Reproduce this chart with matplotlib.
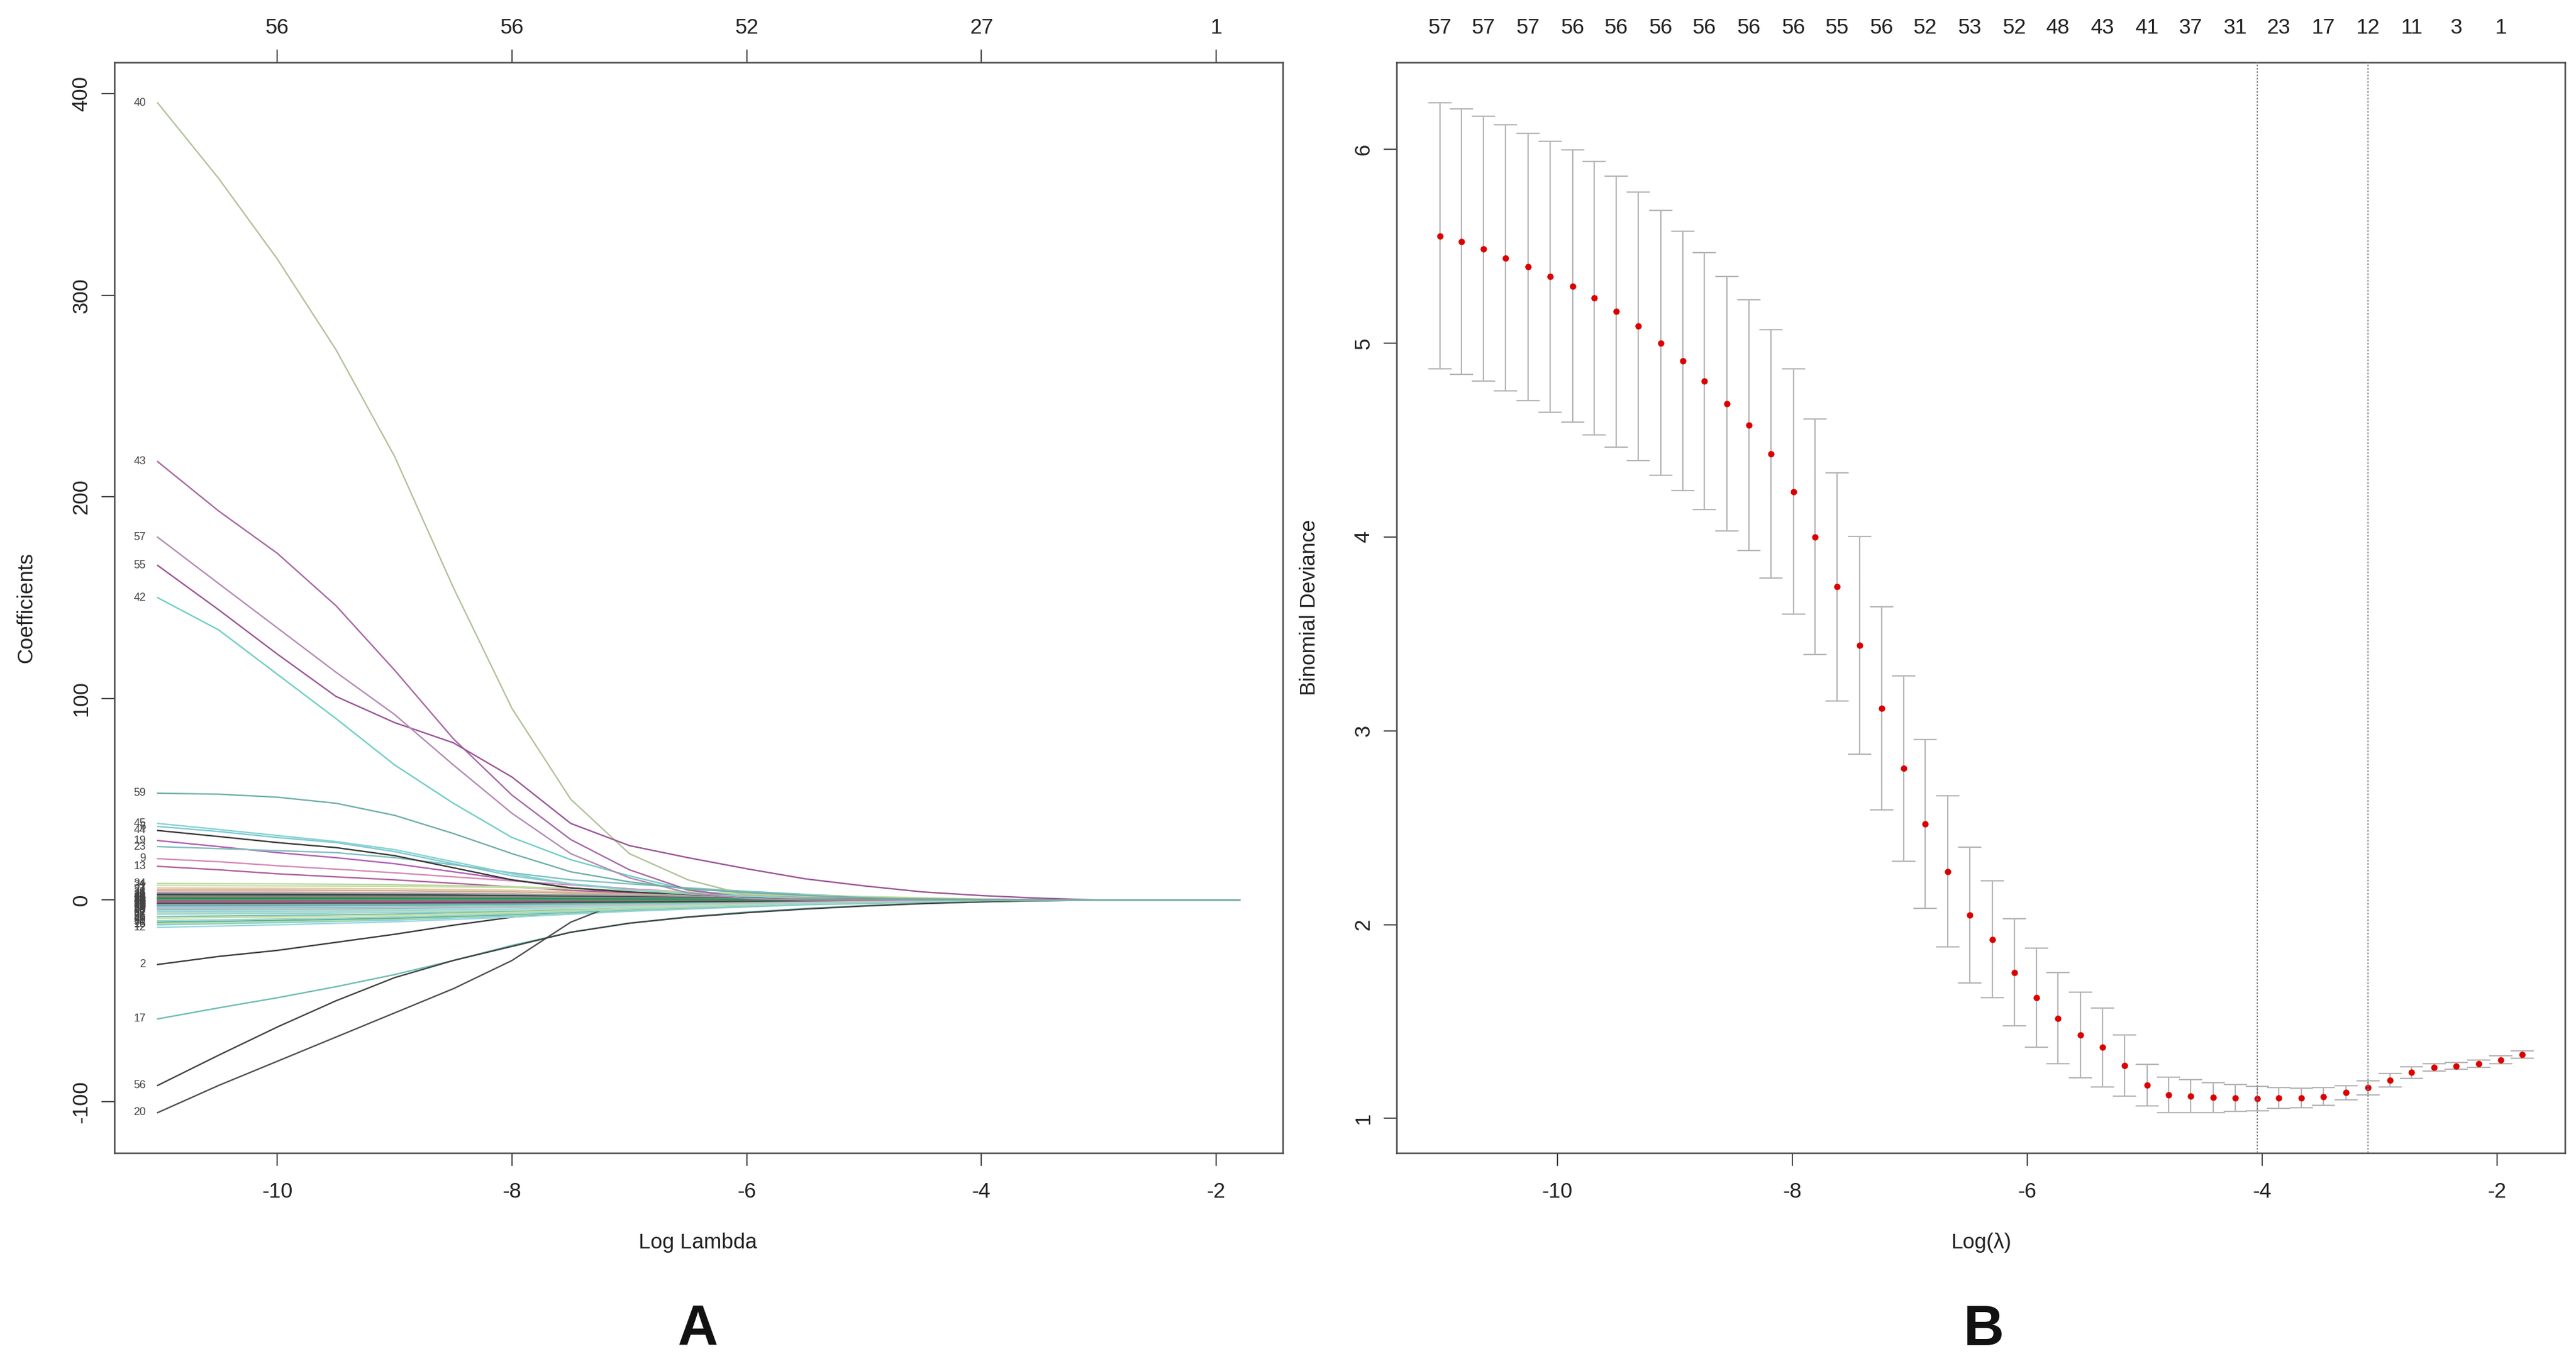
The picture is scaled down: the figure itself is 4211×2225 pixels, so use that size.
import numpy as np
import matplotlib
matplotlib.use("Agg")
import matplotlib.pyplot as plt

plt.rcParams['font.family'] = ['Liberation Sans', 'DejaVu Sans']
plt.rcParams['axes.unicode_minus'] = False

# ---------------- panel A: lasso coefficient paths ----------------
# log(lambda) positions where the paths were read off
path_x = [-11.02, -10.5, -10.0, -9.5, -9.0, -8.5, -8.0, -7.5, -7.0,
          -6.5, -6.0, -5.5, -5.0, -4.5, -4.0, -3.5, -3.0]
path_end = -1.80   # last lambda of the path

b40 = [395.5, 358, 318, 273, 220, 155, 95, 50, 23, 10, 2.5, 0.6, 0, 0, 0, 0, 0]
b43 = [217.5, 193, 172, 146, 114, 80, 52, 30, 15, 5, 1.2, 0, 0, 0, 0, 0, 0]
b57 = [180, 157, 135, 113, 92, 67, 43, 23, 11, 3.5, 0.8, 0, 0, 0, 0, 0, 0]
b55 = [166, 144, 122, 101, 88, 78, 61, 38, 27, 21, 15.5, 10.5, 7, 4, 2.2, 0.9, 0]
b42 = [150, 134, 112, 90, 67, 48, 31, 20, 12, 5, 1.5, 0.3, 0, 0, 0, 0, 0]
b59 = [53, 52.5, 51, 48, 42, 33, 23, 14, 9, 5.5, 3.7, 2.3, 1.2, 0.2, 0, 0, 0]
b45 = [38, 35, 32, 29, 25, 19, 13, 8, 5, 3, 1.8, 0.8, 0.2, 0, 0, 0, 0]
b6 = [36.5, 34, 31, 28.5, 24, 18, 12, 8, 5.5, 3.5, 2, 1, 0.3, 0, 0, 0, 0]
b44 = [34.5, 31.5, 28.5, 26, 22, 16, 10, 6, 4, 2.8, 1.6, 0.5, 0, 0, 0, 0, 0]
b19 = [29.5, 26.5, 23.5, 21, 18, 14, 10, 6, 3.5, 2, 0.9, 0.2, 0, 0, 0, 0, 0]
b23 = [26.5, 25.5, 24.5, 23.5, 21, 17.5, 13.5, 10, 8, 6, 4.3, 2.8, 1.5, 0.5, 0, 0, 0]
b9 = [20.5, 19, 17, 15.3, 13.5, 11.5, 9.5, 7.5, 5.5, 4, 2.8, 1.5, 0.6, 0, 0, 0, 0]
b13 = [16.7, 15, 13, 11.5, 10, 8.3, 6.5, 4.8, 3.6, 2.6, 1.6, 0.8, 0.2, 0, 0, 0, 0]
b2 = [-32, -28, -25, -21, -17, -12.5, -8.5, -6, -4.3, -3.4, -2.7, -2, -1.5, -1, -0.6, -0.2, 0]
b17 = [-59, -53.5, -48.5, -43, -37, -30, -22.5, -16, -11.5, -8.3, -6, -4.2, -2.8, -1.7, -0.9, -0.3, 0]
b56 = [-92, -77, -63, -50, -38.5, -30, -23, -16, -11.5, -8.5, -6.3, -4.5, -3, -1.8, -0.9, -0.3, 0]
b20 = [-105.5, -92, -80, -68, -56, -44, -30, -11, 0.4, 0.4, 0.3, 0.2, 0.1, 0, 0, 0, 0]

major_labels = [40, 43, 57, 55, 42, 59, 45, 6, 44, 19, 23, 9, 13, 2, 17, 56, 20]
major_values = [b40, b43, b57, b55, b42, b59, b45, b6, b44, b19, b23, b9, b13, b2, b17, b56, b20]
major_colors = ['#b3c29a', '#a868a3', '#b48bb4', '#9c5596', '#6fcfc4', '#6fb0a8',
                '#86d3cf', '#7fcad8', '#3a3a3a', '#b25fb5', '#7fc0bf', '#d68ab8',
                '#b0609e', '#3c3c3c', '#6ebdb5', '#444444', '#505050']

# the many small coefficients bunched around zero
minor_x = [-11.02, -10.0, -9.0, -8.0, -7.0, -5.5, -4.0, -3.0]
minor_labels = [34, 31, 7, 27, 1, 38, 11, 25, 48, 4, 29, 52, 21, 36, 14, 50, 3, 47,
                26, 10, 33, 53, 8, 30, 18, 41, 5, 39, 24, 54, 28, 49, 22, 37, 32, 35,
                46, 58, 51, 16, 15, 12]
minor_values = [
    [8.2, 8.0, 7.6, 6.6, 4.8, 2.0, 0.3, 0],
    [7.2, 7.0, 6.8, 6.2, 4.9, 2.4, 0.5, 0],
    [6.0, 5.8, 5.5, 4.8, 3.4, 1.2, 0, 0],
    [5.0, 4.9, 4.6, 4.0, 3.0, 1.4, 0.2, 0],
    [4.2, 4.0, 3.7, 3.1, 2.2, 0.8, 0, 0],
    [3.6, 3.5, 3.3, 2.9, 2.3, 1.2, 0.3, 0],
    [3.0, 2.9, 2.7, 2.3, 1.6, 0.6, 0, 0],
    [2.5, 2.4, 2.3, 2.1, 1.7, 0.9, 0.2, 0],
    [2.0, 1.9, 1.8, 1.5, 1.1, 0.4, 0, 0],
    [1.6, 1.6, 1.5, 1.4, 1.1, 0.6, 0.1, 0],
    [1.2, 1.2, 1.1, 0.9, 0.6, 0.2, 0, 0],
    [0.9, 0.9, 0.8, 0.7, 0.5, 0.3, 0.1, 0],
    [0.6, 0.6, 0.6, 0.5, 0.4, 0.2, 0, 0],
    [0.35, 0.35, 0.3, 0.3, 0.2, 0.1, 0, 0],
    [0.15, 0.15, 0.15, 0.1, 0.1, 0.05, 0, 0],
    [0.05, 0.05, 0.05, 0.05, 0.0, 0, 0, 0],
    [-0.2, -0.2, -0.2, -0.15, -0.1, -0.05, 0, 0],
    [-0.45, -0.45, -0.4, -0.35, -0.25, -0.1, 0, 0],
    [-0.7, -0.7, -0.65, -0.55, -0.4, -0.2, 0, 0],
    [-1.0, -1.0, -0.9, -0.8, -0.6, -0.3, -0.1, 0],
    [-1.3, -1.3, -1.2, -1.0, -0.7, -0.3, 0, 0],
    [-1.6, -1.55, -1.5, -1.3, -1.0, -0.5, -0.1, 0],
    [-1.9, -1.85, -1.7, -1.5, -1.1, -0.4, 0, 0],
    [-2.2, -2.1, -2.0, -1.7, -1.3, -0.6, -0.1, 0],
    [-2.5, -2.4, -2.3, -2.0, -1.5, -0.7, -0.1, 0],
    [-2.8, -2.7, -2.5, -2.2, -1.6, -0.6, 0, 0],
    [-3.1, -3.0, -2.9, -2.5, -1.9, -0.9, -0.2, 0],
    [-3.5, -3.4, -3.2, -2.8, -2.1, -0.9, -0.1, 0],
    [-3.9, -3.8, -3.5, -3.0, -2.2, -1.0, -0.2, 0],
    [-4.3, -4.2, -3.9, -3.4, -2.5, -1.1, -0.1, 0],
    [-4.8, -4.6, -4.3, -3.7, -2.7, -1.2, -0.2, 0],
    [-5.3, -5.1, -4.8, -4.1, -3.0, -1.3, -0.2, 0],
    [-5.8, -5.6, -5.2, -4.4, -3.2, -1.3, -0.1, 0],
    [-6.4, -6.2, -5.8, -5.0, -3.6, -1.5, -0.2, 0],
    [-7.0, -6.7, -6.2, -5.3, -3.9, -1.7, -0.3, 0],
    [-8.2, -7.7, -7.0, -5.8, -4.0, -1.6, -0.2, 0],
    [-9.0, -8.4, -7.6, -6.2, -4.3, -1.8, -0.3, 0],
    [-10.2, -9.4, -8.4, -6.8, -4.6, -1.9, -0.3, 0],
    [-11.0, -10.1, -9.0, -7.2, -4.8, -2.0, -0.4, 0],
    [-11.8, -10.8, -9.5, -7.5, -5.0, -2.1, -0.4, 0],
    [-12.3, -11.2, -9.9, -7.8, -5.2, -2.2, -0.5, 0],
    [-13.6, -12.3, -10.8, -8.5, -5.6, -2.4, -0.5, 0],
]
minor_colors = ['#b9d99f', '#c9e0a8', '#e8c6a0', '#c8b090', '#f2b8c8', '#a0a0a0',
                '#333333', '#2f4f4f', '#8a8a8a', '#3a3a3a', '#b08860', '#2e8b57',
                '#44aa77', '#555555', '#7d7d7d', '#3cb371', '#e0409a', '#c0307a',
                '#f5a0c8', '#9a9ad0', '#d050a0', '#4a4a4a', '#6a9a6a', '#b0a0d8',
                '#2a2a2a', '#60c0a0', '#909090', '#a0d0e8', '#5a8ac0', '#c0c0c0',
                '#70b0b0', '#a8e0e0', '#8fd0d8', '#b8e0c0', '#90d0e0', '#7ac0b0',
                '#c8e0a0', '#a0d8c8', '#60b0a8', '#b0e0a0', '#80c8d8', '#9ad8e0']

df_ticks = [-10, -8, -6, -4, -2]
df_labels = [56, 56, 52, 27, 1]

# ---------------- panel B: cross-validation curve ----------------
log_lambda = [-11.00, -10.82, -10.63, -10.44, -10.25, -10.06, -9.87, -9.69, -9.50, -9.31,
              -9.12, -8.93, -8.75, -8.56, -8.37, -8.18, -7.99, -7.81, -7.62, -7.43,
              -7.24, -7.05, -6.87, -6.68, -6.49, -6.30, -6.11, -5.92, -5.74, -5.55,
              -5.36, -5.17, -4.98, -4.80, -4.61, -4.42, -4.23, -4.04, -3.86, -3.67,
              -3.48, -3.29, -3.10, -2.91, -2.73, -2.54, -2.35, -2.16, -1.97, -1.79]
cvm = [5.553, 5.523, 5.486, 5.439, 5.393, 5.342, 5.294, 5.232, 5.162, 5.087,
       5.001, 4.908, 4.803, 4.686, 4.578, 4.429, 4.234, 4.000, 3.743, 3.441,
       3.116, 2.805, 2.520, 2.274, 2.048, 1.924, 1.754, 1.624, 1.517, 1.432,
       1.367, 1.274, 1.172, 1.121, 1.116, 1.108, 1.106, 1.103, 1.105, 1.106,
       1.113, 1.133, 1.158, 1.198, 1.237, 1.263, 1.271, 1.282, 1.302, 1.331]
cvsd = [0.686, 0.685, 0.683, 0.686, 0.690, 0.699, 0.703, 0.706, 0.699, 0.692,
        0.684, 0.669, 0.663, 0.656, 0.647, 0.641, 0.633, 0.607, 0.588, 0.562,
        0.525, 0.477, 0.435, 0.390, 0.350, 0.302, 0.277, 0.255, 0.234, 0.221,
        0.204, 0.158, 0.108, 0.091, 0.085, 0.077, 0.070, 0.062, 0.053, 0.050,
        0.045, 0.036, 0.037, 0.034, 0.029, 0.019, 0.017, 0.020, 0.020, 0.019]
nzero_top = [57, 57, 57, 56, 56, 56, 56, 56, 56, 55, 56, 52, 53, 52, 48, 43, 41,
             37, 31, 23, 17, 12, 11, 3, 1]

FRAME = '#4a4a4a'
TXT = '#222222'
FS = 25

fig = plt.figure(figsize=(42.11, 22.25), dpi=100)
axA = fig.add_axes([0.0444, 0.1528, 0.4536, 0.8013])
axB = fig.add_axes([0.5422, 0.1528, 0.4536, 0.8013])


def r_limits(lo, hi):
    pad = (hi - lo) * 0.04
    return lo - pad, hi + pad


def style(ax, yticks):
    for s in ax.spines.values():
        s.set_color(FRAME)
        s.set_linewidth(1.8)
    ax.set_xticks(df_ticks, labels=[str(t) for t in df_ticks])
    ax.set_yticks(yticks, labels=[str(t) for t in yticks])
    ax.tick_params(axis='both', direction='out', length=15, width=1.5,
                   color=FRAME, labelsize=FS, labelcolor=TXT)
    ax.tick_params(axis='x', pad=19)
    ax.tick_params(axis='y', pad=12)
    for lab in ax.get_yticklabels():
        lab.set_rotation(90)
        lab.set_va('center')


# ---- draw panel A
paths = {}
for lab, vals, col in zip(major_labels, major_values, major_colors):
    paths[lab] = (path_x + [path_end], vals + [0], col)
for lab, vals, col in zip(minor_labels, minor_values, minor_colors):
    paths[lab] = (minor_x + [path_end], vals + [0], col)

for lab in sorted(paths):
    xs, ys, col = paths[lab]
    axA.plot(xs, ys, color=col, lw=1.7)
for lab in sorted(paths):
    xs, ys, col = paths[lab]
    axA.annotate(str(lab), (xs[0], ys[0]), xytext=(-14, 0), textcoords='offset points',
                 ha='right', va='center', fontsize=13, color='#444444')

all_y = [v for lab in paths for v in paths[lab][1]]
axA.set_xlim(*r_limits(path_x[0], path_end))
axA.set_ylim(*r_limits(min(all_y), max(all_y)))
style(axA, [-100, 0, 100, 200, 300, 400])

topA = axA.twiny()
topA.set_xlim(axA.get_xlim())
topA.set_xticks(df_ticks, labels=[str(v) for v in df_labels])
topA.tick_params(axis='x', direction='out', length=15, width=1.5, color=FRAME,
                 labelsize=FS, labelcolor=TXT, pad=14)
for s in topA.spines.values():
    s.set_visible(False)

# ---- draw panel B
lam = np.array(log_lambda)
m = np.array(cvm)
sd = np.array(cvsd)
i_min = int(np.argmin(m))
ok = np.where(m <= m[i_min] + sd[i_min])[0]
i_1se = int(ok.max())

axB.errorbar(lam, m, yerr=sd, fmt='none', ecolor='#b5b5b5', elinewidth=1.6,
             capsize=13.7, capthick=1.6, zorder=2)
axB.plot(lam, m, 'o', color='#dd0000', ms=7.5, mec='none', zorder=3)
for i in (i_min, i_1se):
    axB.axvline(lam[i], color='#777777', lw=1.3, ls=(0, (1.5, 1.5)), zorder=4)

axB.set_xlim(*r_limits(lam.min(), lam.max()))
axB.set_ylim(*r_limits((m - sd).min(), (m + sd).max()))
style(axB, [1, 2, 3, 4, 5, 6])

topB = axB.twiny()
topB.set_xlim(axB.get_xlim())
topB.set_xticks(lam[::2], labels=[str(v) for v in nzero_top])
topB.tick_params(axis='x', length=0, labelsize=FS, labelcolor=TXT, pad=29)
for s in topB.spines.values():
    s.set_visible(False)

# ---- axis titles and panel letters
fig.text(0.0102, 0.5537, 'Coefficients', rotation=90, ha='center', va='center',
         fontsize=FS, color=TXT)
fig.text(0.5082, 0.5537, 'Binomial Deviance', rotation=90, ha='center', va='center',
         fontsize=FS, color=TXT)
fig.text(0.271, 0.0868, 'Log Lambda', ha='center', va='center', fontsize=FS, color=TXT)
fig.text(0.769, 0.0868, 'Log(\u03bb)', ha='center', va='center', fontsize=FS, color=TXT)
fig.text(0.271, 0.0225, 'A', ha='center', va='center', fontsize=66,
         fontweight='bold', color='#111111')
fig.text(0.770, 0.0225, 'B', ha='center', va='center', fontsize=66,
         fontweight='bold', color='#111111')

fig.savefig('out.png', dpi=100, facecolor='white')
